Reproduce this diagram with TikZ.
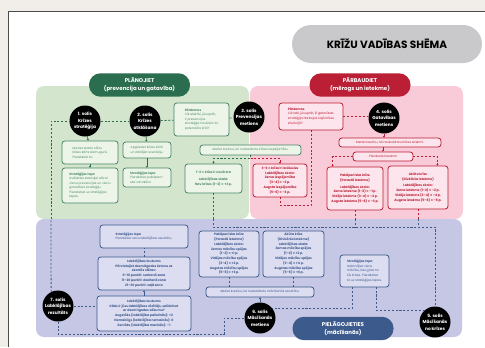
\documentclass[tikz,border=0pt]{standalone}
\usepackage{fontspec}
\setmainfont{Poppins}
\usetikzlibrary{arrows.meta}

\definecolor{paper}{HTML}{F1EEE9}
\definecolor{titlegray}{HTML}{C9C9CB}
\definecolor{plangreen}{HTML}{2B6E4F}
\definecolor{planfill}{HTML}{D3E6CD}
\definecolor{planbox}{HTML}{EDF5E9}
\definecolor{plantext}{HTML}{4E8A69}
\definecolor{checkred}{HTML}{BA1F35}
\definecolor{checkfill}{HTML}{F9CAD8}
\definecolor{checkbox}{HTML}{FCE5EC}
\definecolor{adaptblue}{HTML}{3D5A8C}
\definecolor{adaptfill}{HTML}{C5C7E5}
\definecolor{adaptbox}{HTML}{DCDDF1}

\newcommand{\boxfont}{\fontsize{4.4pt}{6.5pt}\selectfont}
\newcommand{\scorefont}{\fontsize{4.5pt}{6.8pt}\selectfont\bfseries}
\newcommand{\stepfont}{\fontsize{6.2pt}{9pt}\selectfont\bfseries}
\newcommand{\headfont}{\fontsize{7.8pt}{12pt}\selectfont\bfseries}

\tikzset{
  gbox/.style={draw=plangreen!85, fill=planbox, line width=1.1pt, rounded corners=4pt,
    text=plantext, inner xsep=0.1cm, inner ysep=1pt, font=\boxfont},
  rbox/.style={gbox, draw=checkred, fill=checkbox, text=checkred},
  bbox/.style={gbox, draw=adaptblue, fill=adaptbox, text=adaptblue},
  stepdot/.style={circle, fill=black, text=white, minimum size=1.55cm, inner sep=0pt,
    align=center, font=\stepfont},
  headpill/.style={rounded corners=0.57cm, text=white, align=center, font=\headfont,
    minimum width=5.05cm, minimum height=1.17cm},
  gdash/.style={plangreen, line width=1.1pt, dash pattern=on 3pt off 2.5pt},
  rdash/.style={gdash, checkred},
  bdash/.style={gdash, adaptblue},
  tip/.style={-{Triangle[length=2.2pt,width=3pt]}},
  glink/.style={plangreen, line width=1.1pt, tip},
  rlink/.style={glink, checkred},
  blink/.style={glink, adaptblue}
}

\begin{document}
\begin{tikzpicture}[x=0.05cm, y=-0.05cm]
  \useasboundingbox (0,0) rectangle (485,347);
  \fill[paper] (0,0) rectangle (485,347);
  \fill[white] (8,11) rectangle (485,347);
  \draw[black!70, line width=0.8pt] (8,347) |- (485,11);

  % colour fields
  \fill[planfill, rounded corners=0.4cm] (36,86) rectangle (249,219);
  \fill[checkfill, rounded corners=0.4cm] (250,86) rectangle (463,219);
  \fill[adaptfill, rounded corners=0.4cm] (36,219) rectangle (462,337);

  \node[fill=titlegray, rounded corners=0.95cm, minimum width=9.5cm, minimum height=1.9cm,
    font=\fontsize{15pt}{18pt}\selectfont\bfseries] (title) at (387,44) {KRĪŽU VADĪBAS SHĒMA};

  \node[headpill, fill=plangreen] (plan) at (139.5,85) {PLĀNOJIET\\(prevencija un gatavība)};
  \node[headpill, fill=checkred] (check) at (360,85) {PĀRBAUDIET\\(mērogs un ietekme)};
  \node[headpill, fill=adaptblue] (adapt) at (343,328.5) {PIELĀGOJIETIES\\(mācīšanās)};

  % steps
  \node[stepdot] (c1) at (85,121) {1. solis\\Krīzes\\stratēģija};
  \node[stepdot] (c2) at (145,121) {2. solis\\Krīzes\\atklāšana};
  \node[stepdot] (c3) at (249,117) {3. solis\\Prevencijas\\metiens};
  \node[stepdot] (c4) at (384,118) {4. solis\\Gatavības\\metiens};
  \node[stepdot] (c5) at (435,322) {5. solis\\Mācīšanās\\no krīzes};
  \node[stepdot] (c6) at (260,318) {6. solis\\Mācīšanās\\metiens};
  \node[stepdot] (c7) at (58,306) {7. solis\\Labklājības\\rezultāts};

  % plan boxes
  \node[gbox, align=left, minimum width=2.8cm, minimum height=1.15cm] (A) at (90,152.5)
    {Izlasiet skarto sfēru\\krīzes kārts aizmugurē.\\Pierakstiet to.};
  \node[gbox, align=left, minimum width=2.4cm, minimum height=0.8cm] (B) at (147,150)
    {Apgrieziet krīzes kārti\\un atklājiet scenāriju.};
  \node[gbox, align=left, minimum width=2.8cm, minimum height=1.75cm] (C) at (90,185.5)
    {\textbf{Stratēģijas lapa}\\Izvēlieties skartajai sfērai\\vienu prevencijas un vienu\\gatavības stratēģiju.\\Pierakstiet uz stratēģijas\\lapas.};
  \node[gbox, align=left, minimum width=2.4cm, minimum height=0.95cm] (D) at (147,177.5)
    {\textbf{Stratēģijas lapa}\\Pierakstiet, pakāpeni-\\ska vai akūta.};
  \node[gbox, align=left, minimum width=2.75cm, minimum height=1.65cm] (E) at (201.5,119.5)
    {\textbf{Pārdomas}\\Cik efektīvi, jūsuprāt,\\ir prevencijas\\stratēģija novēršot šo\\potenciālo krīzi?};
  \node[gbox, align=center, minimum width=5.05cm, minimum height=0.5cm] (F) at (250.5,150)
    {Metiet kauliņu, lai noskaidrotu krīzes iespējamību.};
  \node[gbox, align=center, minimum width=2.85cm, minimum height=1.45cm, font=\scorefont] (G) at (213.5,178.5)
    {1–2 = krīze ir novērsta\\[3pt]Labklājības skala:\\Nav krīzes (1–2) = +3 p.};

  % check boxes
  \node[rbox, align=left, minimum width=3.2cm, minimum height=1.35cm] (H) at (311,116.5)
    {\textbf{Pārdomas}\\Cik labi, jūsuprāt, šī gatavības\\stratēģija darbojas šajā krīzes\\situācijā?};
  \node[rbox, align=center, minimum width=5.1cm, minimum height=0.45cm] (I) at (390,142.5)
    {Metiet kauliņu, lai noskaidrotu krīzes ietekmi.};
  \node[rbox, align=center, minimum width=3cm, minimum height=0.45cm] (J) at (383,156.5)
    {Pierakstiet ietekmi};
  \node[rbox, align=center, minimum width=2.7cm, minimum height=1.65cm, font=\scorefont] (K) at (280,180.5)
    {3–6 = krīze ir izcēlusies\\Labklājības skala:\\Zema iespējamība\\(3–4) = –2 p.\\Augsta iespējamība\\(5–6) = –3 p.};
  \node[rbox, align=center, minimum width=2.8cm, minimum height=2.15cm, font=\scorefont] (L) at (355,188.5)
    {Pakāpeniska krīze\\(Parastā ietekme)\\[3pt]Labklājības skala:\\Zema ietekme (1–2) = –1 p.\\Vidēja ietekme (3–4) = –2 p.\\Augsta ietekme (5–6) = –3 p.};
  \node[rbox, align=center, minimum width=3cm, minimum height=2.15cm, font=\scorefont] (M) at (418,187.5)
    {Akūta krīze\\(Divkārša ietekme)\\[3pt]Labklājības skala:\\Zema ietekme (1–2) = –2 p.\\Vidēja ietekme (3–4) = –4 p.\\Augsta ietekme (5–6) = –6 p.};

  % adapt boxes
  \node[bbox, align=left, minimum width=4.4cm, minimum height=1.15cm] (N) at (144,236.5)
    {\textbf{Stratēģijas lapa}\\Pierakstiet savu labklājības rezultātu.};
  \node[bbox, align=center, minimum width=4.6cm, minimum height=1.65cm, font=\scorefont] (O) at (144,273.5)
    {Labklājības laukums\\Pārvietojiet desmitgades žetonu uz\\skartās sfēras:\\0–10 punkti: sarkanā zona\\11–20 punkti: dzeltenā zona\\21–30 punkti: zaļā zona};
  \node[bbox, align=center, minimum width=4.7cm, minimum height=1.75cm, font=\scorefont] (P) at (144,313.5)
    {Labklājības laukums\\Kāds ir jūsu labklājības rādītājs, salīdzinot\\ar desmitgades sākumu?\\Augstāks (labklājība palielinās): +2\\Nemainīgs (labklājība nemainās): 0\\Zemāks (labklājība mazinās): –1};
  \node[bbox, align=center, minimum width=3cm, minimum height=2.3cm, font=\scorefont] (Q) at (229,254)
    {Pakāpeniska krīze\\(Parastā ietekme)\\Labklājības skala:\\Zemas mācību spējas\\(1–2) = +1 p.\\Vidējas mācību spējas\\(3–4) = +2 p.\\Augstas mācību spējas\\(5–6) = +3 p.};
  \node[bbox, align=center, minimum width=3.05cm, minimum height=2.3cm, font=\scorefont] (R) at (293.5,254)
    {Akūta krīze\\(Divkārša ietekme)\\Labklājības skala:\\Zemas mācību spējas\\(1–2) = +2 p.\\Vidējas mācību spējas\\(3–4) = +4 p.\\Augstas mācību spējas\\(5–6) = +6 p.};
  \node[bbox, align=center, minimum width=5.4cm, minimum height=0.5cm] (S) at (260,292)
    {Metiet kauliņu, lai noskaidrotu mācīšanās rezultātu.};
  \node[bbox, align=left, minimum width=2.45cm, minimum height=1.6cm] (T) at (364.5,271)
    {\textbf{Stratēģijas lapa}\\Izdomājiet vienu\\mācību, kas gūta no\\šīs krīzes. Pierakstiet\\to uz stratēģijas lapas.};

  % connectors
  \coordinate (gl) at (51,219);
  \coordinate (bl) at (435,227);
  \draw[bdash] (c7.116) -- (gl);
  \draw[gdash] (gl) |- (c1);
  \draw[gdash] (c1) -- (c2);
  \draw[gdash] (c2) -- (E);
  \draw[gdash] (E) -- (c3);
  \draw[glink] (c1) -- (A);
  \draw[glink] (A) -- (C);
  \draw[glink] (c2) -- (B);
  \draw[glink] (B) -- (D);
  \draw[gdash] (F.south) -- ++(0,3) coordinate (fs) -| (G.north) [tip];
  \draw[rdash, tip] (fs) -| (K.north);
  \draw[rdash] (K.south) -- ++(0,8) -| (H.south);
  \draw[rdash] (H.east) -- (H.east -| c4.west);
  \draw[rlink] (c4.south) -- (c4.south |- I.north);
  \draw[rlink] (J.north |- I.south) -- (J.north);
  \draw[rdash, tip] (J.west) -| ([xshift=0.3cm]L.north west);
  \draw[rdash, tip] (J.east) -| ([xshift=-0.55cm]M.north east);
  \draw[gdash] (G.south) -- (G.south |- gl);
  \draw[rdash] (L.south) -- (L.south |- gl);
  \draw[rdash] (M.south) -- (M.south |- gl);
  \draw[bdash] (G.south |- gl) |- (bl) -- (c5);
  \draw[bdash] (L.south |- gl) -- (L.south |- bl);
  \draw[bdash] (M.south |- gl) -- (M.south |- bl);
  \draw[bdash] (c5.131) -| ([xshift=0.6cm]T.south);
  \draw[bdash] ([xshift=-0.6cm]T.south) |- (c6.39);
  \draw[blink] (c6) -- (S);
  \draw[bdash] (Q.south) -- (Q.south |- S.north);
  \draw[bdash] (R.south) -- (R.south |- S.north);
  \draw[bdash] (c6.west) -| (224,334) -| (c7.south);
  \draw[bdash] (c7.east) -- (c7.east -| P.west);
  \draw[blink] (P) -- (O);
  \draw[bdash] (O) -- (N);
\end{tikzpicture}
\end{document}
